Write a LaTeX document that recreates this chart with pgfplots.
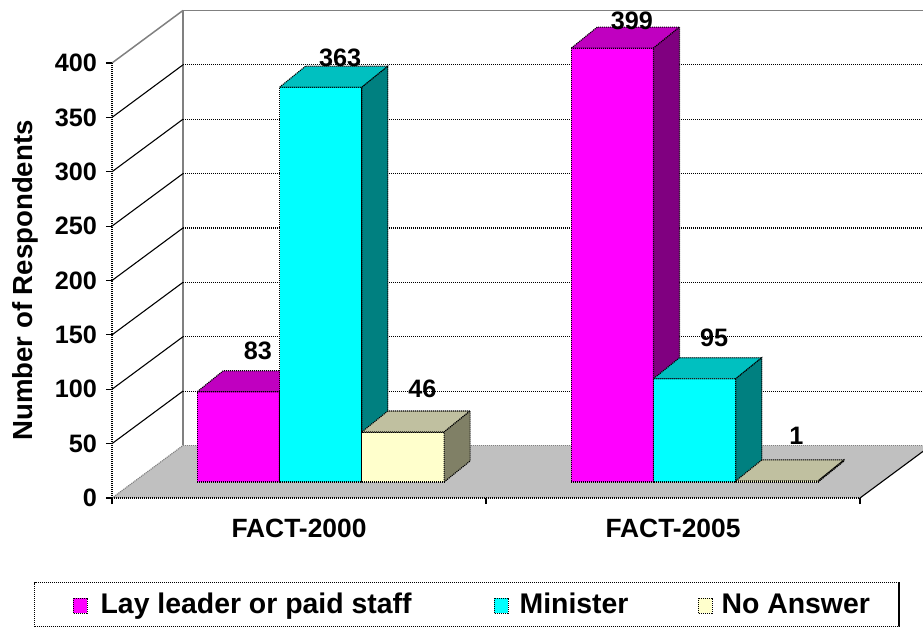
\documentclass[border=0pt]{standalone}
\usepackage{fontspec}
\setmainfont{Liberation Sans}
\usepackage{pgfplots}
\usepackage{pgfplotstable}
\pgfplotsset{compat=1.18}

\definecolor{magF}{RGB}{255,0,255}
\definecolor{magT}{RGB}{192,0,192}
\definecolor{magS}{RGB}{128,0,128}
\definecolor{cyaF}{RGB}{0,255,255}
\definecolor{cyaT}{RGB}{0,192,192}
\definecolor{cyaS}{RGB}{0,128,128}
\definecolor{yelF}{RGB}{255,255,204}
\definecolor{yelT}{RGB}{192,192,160}
\definecolor{yelS}{RGB}{128,128,102}
\definecolor{floorgray}{RGB}{192,192,192}
\definecolor{edgegray}{RGB}{128,128,128}

\pgfplotstableread{
group lay minister noanswer
0 83 363 46
1 399 95 1
}\datatable

\def\DX{0.1898}\def\DY{48.3}
\def\FX{0.0579}\def\FY{14.7}
\def\BX{0.0695}\def\BY{19.3}
\def\BW{0.22}\def\GO{0.17}
\pgfmathsetmacro\RX{2+\DX}
\pgfmathsetmacro\TY{400+\DY}

\tikzset{dotline/.style={dash pattern=on 0.55pt off 0.45pt, line width=0.55pt}}
\newcommand\lbfont{\fontsize{12.6}{14}\selectfont\bfseries}

\newcommand\poly[2]{\edef\temp{\noexpand\addplot[\unexpanded{#1}] coordinates {#2} -- cycle;}\temp}
\newcommand\seg[2]{\edef\temp{\noexpand\addplot[\unexpanded{#1}] coordinates {#2};}\temp}

\newcommand\drawbar[6]{%
  \pgfplotstablegetelem{#1}{#3}\of\datatable
  \let\barval\pgfplotsretval
  \pgfmathsetmacro\xa{#1+\GO+#2*\BW+\FX}%
  \pgfmathsetmacro\xb{\xa+\BW}%
  \pgfmathsetmacro\xc{\xb+\BX}%
  \pgfmathsetmacro\xd{\xa+\BX}%
  \pgfmathsetmacro\ya{\FY}%
  \pgfmathsetmacro\yb{\FY+\barval}%
  \pgfmathsetmacro\yc{\yb+\BY}%
  \pgfmathsetmacro\yd{\FY+\BY}%
  \poly{fill=#4,draw=black,dotline,forget plot}{(\xa,\ya)(\xb,\ya)(\xb,\yb)(\xa,\yb)}%
  \poly{fill=#5,draw=black,dotline,forget plot}{(\xa,\yb)(\xb,\yb)(\xc,\yc)(\xd,\yc)}%
  \poly{fill=#6,draw=black,dotline,forget plot}{(\xb,\ya)(\xc,\yd)(\xc,\yc)(\xb,\yb)}%
  \pgfmathsetmacro\xl{\xa+0.5*\BW+0.052}%
  \pgfmathsetmacro\yl{0.96*\barval+48}%
  \edef\temp{\noexpand\node[anchor=base,font=\noexpand\lbfont,inner sep=0pt] at (axis cs:\xl,\yl) {\barval};}\temp
}

\pgfplotsset{sqlegend/.style={legend image code/.code={\path (0pt,0pt); \draw[##1, line width=0.55pt, dash pattern=on 0.55pt off 0.45pt] (4.5pt,0pt) rectangle (11.5pt,7.5pt);}}}

\begin{document}
\begin{tikzpicture}
\begin{axis}[name=ax, scale only axis, width=374pt, height=217.5pt,
  xmin=0, xmax=2, ymin=0, ymax=400,
  clip=false, axis on top,
  axis x line*=bottom, axis y line*=left,
  axis line style={black, dotline},
  xtick={0,1,2}, x tick label as interval, xticklabels={FACT-2000,FACT-2005},
  ytick={0,50,100,150,200,250,300,350,400},
  yticklabel={\fontsize{12.6}{14}\selectfont\bfseries\pgfmathprintnumber[assume math mode=true]{\tick}},
  tick align=outside, major tick length=3pt,
  tick style={black, solid, line width=0.55pt},
  yticklabel style={anchor=east, xshift=-1pt},
  xticklabel style={font=\fontsize{13.2}{15}\selectfont\bfseries, yshift=-4pt},
  every axis y label/.style={at={(axis description cs:-0.116,0.5)}, rotate=90, anchor=center, font=\fontsize{13.8}{16}\selectfont\bfseries},
  ylabel={Number of Respondents},
  legend columns=3,
  legend cell align=left,
  legend style={at={(axis description cs:-0.1043,-0.1931)}, anchor=north west,
    draw=black, dotline, font=\fontsize{14.2}{16}\selectfont\bfseries,
    inner xsep=14.5pt, inner ysep=5pt,
    nodes={inner sep=0pt}, cells={anchor=base west},
    /tikz/column 1/.style={column sep=6.5pt},
    /tikz/column 2/.style={column sep=36.5pt},
    /tikz/column 3/.style={column sep=5.5pt},
    /tikz/column 4/.style={column sep=30pt},
    /tikz/column 5/.style={column sep=4.5pt}},
]
\addlegendimage{sqlegend, fill=magF, draw=black}
\addlegendimage{sqlegend, fill=cyaF, draw=black}
\addlegendimage{sqlegend, fill=yelF, draw=black}
\legend{Lay leader or paid staff, Minister, No Answer}

% floor
\poly{fill=floorgray, draw=none, forget plot}{(0,0)(\DX,\DY)(\RX,\DY)(2,0)}
\seg{edgegray, dotline, forget plot}{(0,0)(\DX,\DY)}
\seg{edgegray, dotline, forget plot}{(\DX,\DY)(\RX,\DY)}
\seg{black, line width=0.55pt, forget plot}{(2,0)(\RX,\DY)}
% walls
\seg{edgegray, line width=0.75pt, forget plot}{(\DX,\DY)(\DX,\TY)}
\seg{edgegray, line width=0.75pt, forget plot}{(0,400)(\DX,\TY)}
\seg{edgegray, line width=0.75pt, forget plot}{(\DX,\TY)(\RX,\TY)}
\pgfplotsforeachungrouped \t in {50,100,150,200,250,300,350}{%
  \pgfmathsetmacro\gy{\t+\DY}%
  \seg{black, line width=0.55pt, forget plot}{(0,\t)(\DX,\gy)}%
  \seg{black, dotline, forget plot}{(\DX,\gy)(\RX,\gy)}%
}
% bars
\drawbar{0}{0}{lay}{magF}{magT}{magS}
\drawbar{0}{1}{minister}{cyaF}{cyaT}{cyaS}
\drawbar{0}{2}{noanswer}{yelF}{yelT}{yelS}
\drawbar{1}{0}{lay}{magF}{magT}{magS}
\drawbar{1}{1}{minister}{cyaF}{cyaT}{cyaS}
\drawbar{1}{2}{noanswer}{yelF}{yelT}{yelS}
\end{axis}
\pgfresetboundingbox
\path[use as bounding box] ([shift={(-56pt,-64.5pt)}]ax.south west) rectangle ([shift={(405.5pt,249pt)}]ax.south west);
\end{tikzpicture}
\end{document}
